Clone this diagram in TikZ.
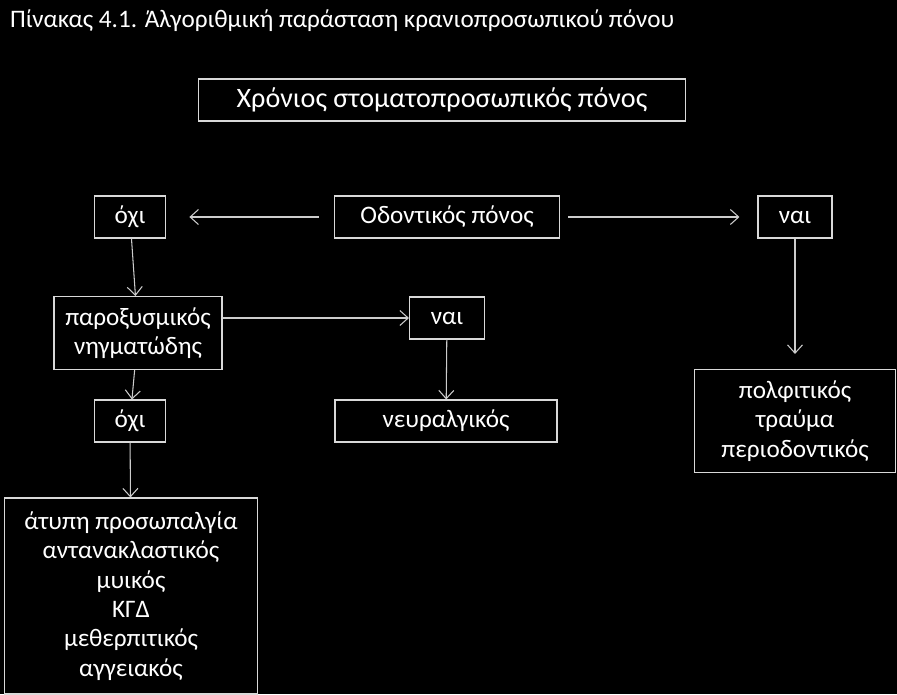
\documentclass[tikz,border=0pt]{standalone}
\usepackage{fontspec}
\setmainfont{Carlito}
\usetikzlibrary{arrows.meta,positioning}

\tikzset{
  box/.style={draw=white!85!black, line width=0.9pt, text=white, align=center,
    inner sep=0pt, font=\fontsize{21.5}{25}\selectfont},
  link/.style={draw=white!80!black, line width=0.9pt, -{Straight Barb[length=2.5mm,width=4.5mm]}}
}

\begin{document}
\begin{tikzpicture}[x=0.03cm, y=-0.03cm]
  \fill[black] (0,0) rectangle (897,694);
  \node[anchor=base west, text=white, font=\fontsize{21.5}{25}\selectfont] (title) at (6,27) {Πίνακας 4.1. Άλγοριθμική παράσταση κρανιοπροσωπικού πόνου};

  \node[box, minimum width=14.6cm, minimum height=1.26cm, font=\fontsize{24}{28}\selectfont] (chronic) at (442,100) {Χρόνιος στοματοπροσωπικός πόνος};
  \node[box, minimum width=2.13cm, minimum height=1.26cm] (no1) at (130,217) {όχι};
  \node[box, minimum width=6.75cm, minimum height=1.26cm] (dental) at (447,217) {Οδοντικός πόνος};
  \node[box, minimum width=2.22cm, minimum height=1.26cm] (yes1) at (795,217) {ναι};
  \node[box, minimum width=5.04cm, minimum height=2.19cm] (parox) at (138,333) {παροξυσμικός\\νηγματώδης};
  \node[box, minimum width=2.25cm, minimum height=1.26cm] (yes2) at (447,318) {ναι};
  \node[box, minimum width=2.13cm, minimum height=1.26cm] (no2) at (130,421) {όχι};
  \node[box, minimum width=6.66cm, minimum height=1.26cm] (neural) at (446,421) {νευραλγικός};
  \node[box, minimum width=6.03cm, minimum height=3.09cm] (pulp) at (795,421) {πολφιτικός\\τραύμα\\περιοδοντικός};
  \node[box, minimum width=7.59cm, minimum height=5.88cm] (atyp) at (131,596) {άτυπη προσωπαλγία\\αντανακλαστικός\\μυικός\\ΚΓΔ\\μεθερπιτικός\\αγγειακός};

  \draw[link, shorten <=0.45cm, shorten >=0.7cm] (dental) -- (no1);
  \draw[link, shorten <=0.24cm, shorten >=0.54cm] (dental) -- (yes1);
  \draw[link] (no1) -- (parox);
  \draw[link] (parox.east |- yes2) -- (yes2);
  \draw[link] (yes2) -- (neural);
  \draw[link, shorten >=0.45cm] (yes1) -- (pulp);
  \draw[link] (parox) -- (no2);
  \draw[link] (no2) -- (atyp);
\end{tikzpicture}
\end{document}
